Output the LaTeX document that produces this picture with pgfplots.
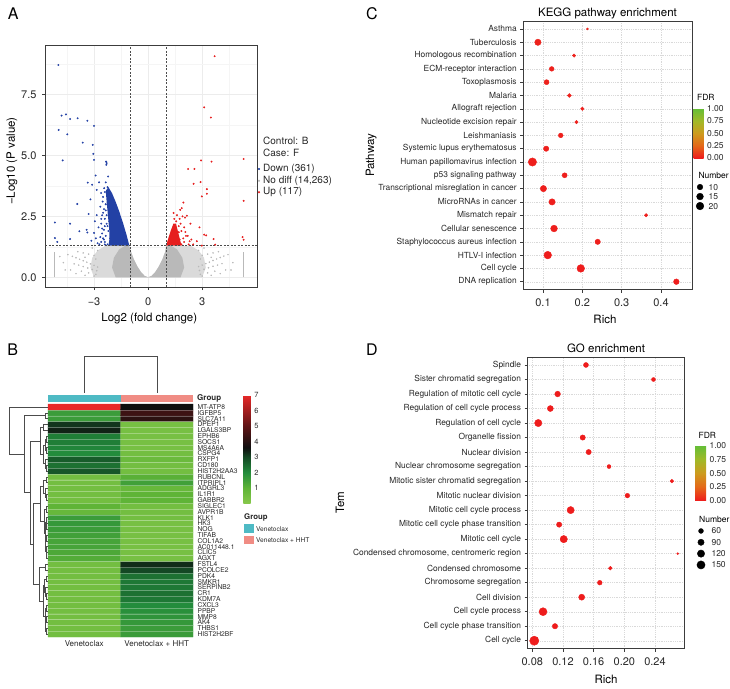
\documentclass[border=0pt]{standalone}
\usepackage{pgfplots}
\pgfplotsset{compat=1.18}
\usepackage{pgfplotstable}
\usepackage{fontspec}
\setmainfont{TeX Gyre Heros}

\definecolor{dnblue}{RGB}{35,65,165}
\definecolor{upred}{RGB}{230,30,30}
\definecolor{nogray}{RGB}{185,185,185}
\definecolor{nolight}{RGB}{218,218,218}
\definecolor{grpteal}{RGB}{78,186,196}
\definecolor{grpsalmon}{RGB}{240,140,132}
\definecolor{frame}{RGB}{60,60,60}
\definecolor{lab}{RGB}{40,40,40}

\newcommand{\fs}[1]{\fontsize{#1}{#1}\selectfont}

\pgfplotsset{
  /pgf/number format/assume math mode=true,
  dot panel/.style={
    anchor=south west, scale only axis,
    axis line style={frame, line width=0.6pt},
    grid=major, grid style={gray!30, line width=0.4pt, dash pattern=on 0.6pt off 1.2pt},
    tick align=outside, tick pos=left, major tick length=2.8pt,
    tick style={frame, line width=0.5pt},
    yticklabel style={font=\fs{8.4}, text=lab},
    xticklabel style={font=\fs{11}, text=lab, yshift=-3pt},
    label style={font=\fs{11.5}, text=black},
    title style={font=\fs{11.5}, at={(0.5,1)}, anchor=base, yshift=-1pt},
    colormap={fdr}{rgb255(0cm)=(238,28,28); rgb255(1cm)=(228,105,25); rgb255(2cm)=(205,155,30); rgb255(3cm)=(160,185,40); rgb255(4cm)=(100,190,55)},
    point meta min=0, point meta max=1,
  },
  size legend/.style={
    anchor=north west, scale only axis, width=8pt, xmin=-1, xmax=1,
    axis line style={draw=none}, xtick=\empty, major tick length=0pt,
    yticklabel pos=right, yticklabel style={font=\fs{8.5}, text=lab, xshift=1pt},
    title style={font=\fs{8.5}, anchor=base west},
  },
  fdr bar/.style={
    at={(parent axis.north east)}, anchor=north west, scale only axis,
    ytick={0,0.25,0.5,0.75,1}, yticklabels={0.00,0.25,0.50,0.75,1.00},
    axis line style={draw=none}, major tick length=0pt,
    yticklabel style={font=\fs{8.5}, text=lab},
    title=FDR, title style={font=\fs{8.5}, at={(0,1)}, anchor=base west},
  },
}

% KEGG: pos 1 = bottom row
\pgfplotstableread{
pos rich n fdr
1 0.439 10 0.002
2 0.196 20 0.001
3 0.112 20 0.004
4 0.239 9 0.006
5 0.128 15 0.005
6 0.362 4 0.008
7 0.123 13 0.006
8 0.101 13 0.007
9 0.155 8 0.009
10 0.073 24 0.010
11 0.108 9 0.011
12 0.145 7 0.012
13 0.185 4 0.013
14 0.200 4 0.014
15 0.167 5 0.015
16 0.109 8 0.016
17 0.122 7 0.017
18 0.179 4 0.018
19 0.087 13 0.019
20 0.213 3 0.020
}\kegg

% GO: pos 1 = bottom row
\pgfplotstableread{
pos rich n fdr
1 0.0826 190 0.0001
2 0.1096 70 0.0002
3 0.0940 143 0.0001
4 0.1444 85 0.0001
5 0.1680 57 0.0003
6 0.1817 44 0.0004
7 0.2696 35 0.0005
8 0.1210 120 0.0001
9 0.1150 68 0.0002
10 0.1300 117 0.0001
11 0.2040 56 0.0003
12 0.2620 44 0.0004
13 0.1800 47 0.0003
14 0.1535 67 0.0002
15 0.1457 68 0.0002
16 0.0878 119 0.0001
17 0.1035 83 0.0002
18 0.1130 76 0.0002
19 0.2380 47 0.0004
20 0.1500 62 0.0003
}\go

% heatmap: y = 41 - row, column 1 at x=84.25, column 2 at x=156.75
\pgfplotstableread{
x y v
84.25 1 0.5
156.75 1 1.6
84.25 2 0.5
156.75 2 1.6
84.25 3 0.5
156.75 3 1.7
84.25 4 0.5
156.75 4 1.8
84.25 5 0.5
156.75 5 1.9
84.25 6 0.5
156.75 6 2.0
84.25 7 0.5
156.75 7 2.3
84.25 8 0.5
156.75 8 2.4
84.25 9 0.5
156.75 9 2.3
84.25 10 0.5
156.75 10 2.3
84.25 11 0.5
156.75 11 2.4
84.25 12 0.5
156.75 12 3.0
84.25 13 0.5
156.75 13 3.3
84.25 14 1.2
156.75 14 0.4
84.25 15 1.3
156.75 15 0.4
84.25 16 1.4
156.75 16 0.4
84.25 17 1.4
156.75 17 0.4
84.25 18 1.5
156.75 18 0.4
84.25 19 1.6
156.75 19 0.4
84.25 20 1.7
156.75 20 0.4
84.25 21 1.6
156.75 21 0.5
84.25 22 0.8
156.75 22 0.5
84.25 23 1.0
156.75 23 0.5
84.25 24 0.5
156.75 24 1.0
84.25 25 0.5
156.75 25 1.0
84.25 26 0.5
156.75 26 0.8
84.25 27 0.5
156.75 27 1.5
84.25 28 0.5
156.75 28 1.1
84.25 29 2.8
156.75 29 0.5
84.25 30 2.4
156.75 30 0.5
84.25 31 2.7
156.75 31 0.7
84.25 32 2.0
156.75 32 0.5
84.25 33 2.1
156.75 33 0.4
84.25 34 2.2
156.75 34 0.4
84.25 35 2.2
156.75 35 0.4
84.25 36 3.4
156.75 36 0.4
84.25 37 3.2
156.75 37 0.4
84.25 38 1.6
156.75 38 4.1
84.25 39 1.6
156.75 39 4.4
84.25 40 7.0
156.75 40 3.6
}\heat

\begin{document}
\begin{tikzpicture}
\useasboundingbox (0,0) rectangle (730pt,-688pt);

% ---------------- A: volcano ----------------
\begin{axis}[at={(45pt,-287pt)}, anchor=south west, scale only axis,
  width=212pt, height=242pt,
  xmin=-5.72, xmax=6.04, ymin=-0.40, ymax=9.54,
  xtick={-3,0,3}, xticklabels={−3,0,3},
  ytick={0,2.5,5,7.5}, yticklabels={0.0,2.5,5.0,7.5},
  minor xtick={-4.5,-1.5,1.5,4.5}, minor ytick={1.25,3.75,6.25,8.75},
  grid=both, major grid style={gray!15, line width=0.5pt},
  minor grid style={gray!8, line width=0.35pt},
  axis line style={frame, line width=0.5pt},
  tick align=outside, tick pos=left, major tick length=3pt, minor tick length=0pt,
  tick style={frame, line width=0.5pt},
  ticklabel style={font=\fs{11}, text=lab},
  xticklabel style={yshift=-4pt}, yticklabel style={xshift=-2pt},
  label style={font=\fs{11.5}},
  xlabel={Log2 (fold change)}, ylabel={−Log10 (P value)},
  xlabel style={at={(axis description cs:0.492,-0.132)}, anchor=center},
  ylabel style={at={(axis description cs:-0.156,0.52)}, anchor=center},
]
% no-diff cloud: sparse outer part and dense part along the V
\addplot[fill=nolight, draw=none, forget plot] coordinates {
(-3.0,0) (-3.2,0.4) (-3.1,0.8) (-2.8,1.1) (-2.4,1.28) (-1.05,1.28)
(-0.95,1.05) (-0.8,0.75) (-0.6,0.45) (-0.4,0.22) (-0.2,0.06) (0,0)
(0.2,0.06) (0.4,0.22) (0.6,0.45) (0.8,0.75) (0.95,1.05) (1.0,1.28)
(2.4,1.28) (2.8,1.1) (3.1,0.8) (3.2,0.4) (3.0,0)};
\addplot[fill=nogray, draw=none, forget plot] coordinates {
(-1.8,0) (-2.0,0.4) (-1.9,0.8) (-1.6,1.15) (-1.3,1.28) (-1.05,1.28)
(-0.95,1.05) (-0.8,0.75) (-0.6,0.45) (-0.4,0.22) (-0.2,0.06) (0,0)
(0.2,0.06) (0.4,0.22) (0.6,0.45) (0.8,0.75) (0.95,1.05) (1.0,1.28)
(1.3,1.28) (1.6,1.15) (1.9,0.8) (2.0,0.4) (1.8,0)};
\addplot[only marks, mark=*, mark size=0.55pt, nogray, forget plot] coordinates {
(-4.45,0.93) (-4.2,0.86) (-4.0,0.80) (-3.8,0.74) (-3.6,0.68) (-3.4,0.62) (-3.2,0.55) (-3.0,0.49) (-2.8,0.42)
(-4.1,0.55) (-3.85,0.50) (-3.6,0.44) (-3.35,0.38) (-3.1,0.32) (-2.85,0.27)
(-3.9,1.05) (-3.6,1.0) (-3.3,0.95) (-3.0,0.9) (-2.8,1.1) (-3.1,1.2) (-2.9,0.75) (-3.5,0.82)
(-3.7,0.25) (-3.3,0.18) (-2.9,0.12) (-4.3,0.3) (-4.0,0.15) (-3.5,0.08) (-3.0,0.05)
(-4.7,0.6) (-4.6,0.3) (-4.9,0.85)
(4.43,0.93) (4.2,0.87) (4.0,0.81) (3.8,0.75) (3.6,0.69) (3.4,0.62) (3.2,0.56) (3.0,0.5) (2.8,0.44)
(4.1,0.56) (3.85,0.5) (3.6,0.45) (3.35,0.39) (3.1,0.33) (2.85,0.28)
(3.9,1.05) (3.6,1.0) (3.3,0.95) (3.0,0.9) (2.8,1.1) (3.1,1.2) (2.9,0.75) (3.5,0.82)
(3.7,0.25) (3.3,0.18) (2.9,0.12) (4.3,0.3) (4.0,0.15) (3.5,0.08) (3.0,0.05)
(4.7,0.6) (4.6,0.3)};
\addplot[nogray, line width=1pt, forget plot] coordinates {(-5.20,0) (-5.20,1.05)};
\addplot[nogray, line width=1pt, forget plot] coordinates {(5.30,0) (5.30,1.05)};
% down
\addplot[fill=dnblue, draw=none, forget plot] coordinates {
(-1.04,1.3) (-1.2,1.75) (-1.4,2.25) (-1.6,2.7) (-1.8,3.1) (-2.0,3.45) (-2.2,3.7)
(-2.35,3.55) (-2.3,3.1) (-2.25,2.7) (-2.2,2.3) (-2.15,1.9) (-2.15,1.55) (-2.2,1.3)};
\addplot[only marks, mark=*, mark size=0.75pt, dnblue, forget plot] coordinates {
(-4.98,8.72) (-4.80,6.64) (-4.56,6.69) (-4.96,6.05) (-4.33,6.50) (-3.91,6.53) (-3.37,6.43) (-3.00,6.22)
(-4.48,5.87) (-3.63,5.53) (-4.74,4.80) (-3.07,5.44) (-3.04,5.07) (-3.00,4.82) (-2.91,4.18) (-3.35,3.89)
(-3.11,3.80) (-2.85,3.59) (-3.93,3.01) (-5.17,2.25) (-4.33,2.20) (-3.81,1.89) (-3.41,1.95) (-3.37,1.84)
(-5.17,1.61) (-5.04,1.45) (-4.33,1.57) (-3.0,1.82) (-2.33,4.75) (-2.30,4.69) (-2.32,4.62) (-2.22,4.14)
(-2.44,3.66) (-2.61,3.46) (-2.52,3.11) (-2.72,3.9) (-2.65,2.9) (-2.85,2.55) (-2.95,2.3) (-2.75,2.05)
(-2.9,1.6) (-3.15,1.5) (-2.8,1.4) (-3.3,2.6) (-3.2,3.2) (-2.6,2.4) (-2.55,2.0) (-2.65,1.65) (-2.7,1.35)
(-2.35,3.9) (-2.25,3.7) (-2.4,3.5) (-2.1,2.9) (-2.3,2.2) (-2.45,1.55) (-1.95,2.5)
(-2.0,1.4) (-2.1,1.6) (-1.9,1.75) (-2.2,1.9) (-2.35,1.7) (-2.0,2.05) (-2.15,2.3) (-1.8,2.2)
(-2.3,2.55) (-2.45,2.8) (-2.0,2.6) (-2.35,3.0) (-1.75,1.45) (-2.25,1.35) (-2.4,2.1) (-1.9,2.85)
(-2.15,3.25) (-2.55,1.8) (-2.6,2.2) (-2.5,2.65) (-1.85,1.35) (-2.05,1.8) (-2.25,2.1) (-2.4,1.45)
(-2.4,1.35) (-2.5,1.6) (-2.45,1.95) (-2.4,2.4) (-2.35,2.75) (-2.5,3.3) (-2.55,2.55) (-2.6,1.45)};
% up
\addplot[fill=upred, draw=none, forget plot] coordinates {
(1.0,1.3) (1.12,1.6) (1.25,1.9) (1.4,2.2) (1.55,2.2) (1.65,1.9) (1.75,1.6) (1.85,1.3)};
\addplot[only marks, mark=*, mark size=0.75pt, upred, forget plot] coordinates {
(3.69,9.08) (3.11,6.98) (3.48,6.56) (5.30,4.86) (2.94,4.80) (3.52,4.75) (2.22,4.45) (2.57,4.45)
(2.52,3.84) (2.91,3.91) (3.26,3.62) (3.26,3.43) (2.98,3.32) (5.30,3.14) (1.96,3.07) (1.87,2.84)
(1.78,2.77) (1.41,2.64) (2.15,2.53) (1.91,2.50) (2.05,2.45) (1.56,2.30) (2.85,2.05) (2.07,1.86)
(3.11,1.75) (3.22,1.72) (5.24,1.65) (5.30,1.54) (3.63,1.57) (2.30,1.48) (2.70,1.48) (2.98,1.30)
(3.72,1.34) (1.7,2.1) (1.85,1.9) (2.2,1.7) (2.4,1.55) (1.95,1.6) (2.5,1.35) (1.75,2.4) (1.6,2.55) (2.35,2.2)
(1.65,1.4) (1.75,1.55) (1.6,1.7) (1.85,1.35) (2.0,1.45) (1.7,1.85) (2.1,1.7) (1.55,1.95)
(1.45,2.4) (2.25,1.35) (1.8,2.2) (2.0,2.05)};
% thresholds
\addplot[gray!60!black, line width=0.5pt, dash pattern=on 2pt off 1.5pt, forget plot] coordinates {(-1,-0.4) (-1,9.54)};
\addplot[gray!60!black, line width=0.5pt, dash pattern=on 2pt off 1.5pt, forget plot] coordinates {(1,-0.4) (1,9.54)};
\addplot[gray!60!black, line width=0.5pt, dash pattern=on 2pt off 1.5pt, forget plot] coordinates {(-5.72,1.3) (6.04,1.3)};
\end{axis}

% A legend
\begin{axis}[at={(255pt,-197pt)}, anchor=south west, scale only axis, width=6pt, height=61pt,
  xmin=255, xmax=261, ymin=-197, ymax=-136,
  axis line style={draw=none}, major tick length=0pt, xtick=\empty,
  ytick={-192.3,-180.7,-169,-152.7,-141},
  yticklabels={Up (117),{No diff (14,263)},Down (361),Case: F,Control: B},
  yticklabel pos=right, yticklabel style={font=\fs{10}, text=lab, inner sep=2pt}]
\addplot[only marks, mark=*, mark size=0.9pt, dnblue] coordinates {(259,-169)};
\addplot[only marks, mark=*, mark size=0.9pt, nogray] coordinates {(259,-180.7)};
\addplot[only marks, mark=*, mark size=0.9pt, upred] coordinates {(259,-192.3)};
\end{axis}

% ---------------- B: heatmap ----------------
\begin{axis}[at={(48pt,-404pt)}, anchor=north west, scale only axis,
  width=145pt, height=233pt, xmin=48, xmax=193, ymin=0.5, ymax=40.5, clip=false,
  axis line style={draw=none}, major tick length=0pt,
  xtick={84.25,156.75}, xticklabels={Venetoclax,Venetoclax + HHT},
  xticklabel style={font=\fs{8}, text=lab},
  ytick={1,...,40},
  yticklabels={HIST2H2BF,THBS1,AK4,MMP8,PPBP,CXCL3,KDM7A,CR1,SERPINB2,SMKR1,PDK4,PCOLCE2,FSTL4,AGXT,CLIC5,AC011448.1,COL1A2,TIFAB,NOG,HK3,KLK1,AVPR1B,SIGLEC1,GABBR2,IL1R1,ADGRL3,ITPRIPL1,RUBCNL,HIST2H2AA3,CD180,RXFP1,CSPG4,MS4A6A,SOCS1,EPHB6,LGALS3BP,DPEP1,SLC7A11,IGFBP5,MT-ATP8},
  yticklabel pos=right, yticklabel style={font=\fs{6.7}, text=lab, xshift=1pt},
  colormap={heat}{rgb255(0cm)=(135,200,75); rgb255(1cm)=(95,180,55); rgb255(2cm)=(35,140,60); rgb255(3cm)=(20,72,36); rgb255(3.6cm)=(15,15,15); rgb255(5cm)=(95,20,22); rgb255(7cm)=(232,40,40)},
  point meta min=0, point meta max=7,
  colorbar, colorbar style={at={(parent axis.north east)}, anchor=north west,
    xshift=41.8pt, yshift=9pt, scale only axis, width=7.4pt, height=108.5pt,
    ytick={1,...,7}, axis line style={draw=none}, major tick length=0pt,
    yticklabel style={font=\fs{7.5}, text=lab}},
]
\addplot[matrix plot*, mesh/cols=2, point meta=explicit] table[x=x, y=y, meta=v] {\heat};
% faint cell borders between rows
\addplot[white, opacity=0.3, line width=0.3pt, unbounded coords=jump] table {
x y
48 1.5
193 1.5
nan nan
48 2.5
193 2.5
nan nan
48 3.5
193 3.5
nan nan
48 4.5
193 4.5
nan nan
48 5.5
193 5.5
nan nan
48 6.5
193 6.5
nan nan
48 7.5
193 7.5
nan nan
48 8.5
193 8.5
nan nan
48 9.5
193 9.5
nan nan
48 10.5
193 10.5
nan nan
48 11.5
193 11.5
nan nan
48 12.5
193 12.5
nan nan
48 13.5
193 13.5
nan nan
48 14.5
193 14.5
nan nan
48 15.5
193 15.5
nan nan
48 16.5
193 16.5
nan nan
48 17.5
193 17.5
nan nan
48 18.5
193 18.5
nan nan
48 19.5
193 19.5
nan nan
48 20.5
193 20.5
nan nan
48 21.5
193 21.5
nan nan
48 22.5
193 22.5
nan nan
48 23.5
193 23.5
nan nan
48 24.5
193 24.5
nan nan
48 25.5
193 25.5
nan nan
48 26.5
193 26.5
nan nan
48 27.5
193 27.5
nan nan
48 28.5
193 28.5
nan nan
48 29.5
193 29.5
nan nan
48 30.5
193 30.5
nan nan
48 31.5
193 31.5
nan nan
48 32.5
193 32.5
nan nan
48 33.5
193 33.5
nan nan
48 34.5
193 34.5
nan nan
48 35.5
193 35.5
nan nan
48 36.5
193 36.5
nan nan
48 37.5
193 37.5
nan nan
48 38.5
193 38.5
nan nan
48 39.5
193 39.5
};
% annotation bar
\addplot[fill=grpteal, draw=none] coordinates {(48,40.843) (120.5,40.843) (120.5,42.045) (48,42.045)};
\addplot[fill=grpsalmon, draw=none] coordinates {(120.5,40.843) (193,40.843) (193,42.045) (120.5,42.045)};
% column dendrogram
\addplot[gray!60!black, line width=0.45pt] coordinates {(84.25,42.39) (84.25,48.74) (156.75,48.74) (156.75,42.39)};
% row dendrogram
\addplot[gray!60!black, line width=0.45pt, unbounded coords=jump] table {
x y
47.5 39
45 39
45 38
47.5 38
nan nan
47.5 37
43 37
43 36
47.5 36
nan nan
47.5 35
46.5 35
46.5 34
47.5 34
nan nan
47.5 33
46.5 33
46.5 32
47.5 32
nan nan
46.5 34.5
45 34.5
45 32.5
46.5 32.5
nan nan
47.5 30
46.5 30
46.5 29
47.5 29
nan nan
47.5 31
45.5 31
45.5 29.5
46.5 29.5
nan nan
45 33.5
43.5 33.5
43.5 30.25
45.5 30.25
nan nan
43 36.5
40.7 36.5
40.7 31.875
43.5 31.875
nan nan
47.5 28
46 28
46 27
47.5 27
nan nan
47.5 25
46.5 25
46.5 24
47.5 24
nan nan
47.5 26
45 26
45 24.5
46.5 24.5
nan nan
46 27.5
43 27.5
43 25.25
45 25.25
nan nan
47.5 23
46 23
46 22
47.5 22
nan nan
47.5 20
46.7 20
46.7 19
47.5 19
nan nan
47.5 21
46 21
46 19.5
46.7 19.5
nan nan
47.5 18
46.5 18
46.5 17
47.5 17
nan nan
47.5 15
46.7 15
46.7 14
47.5 14
nan nan
47.5 16
46 16
46 14.5
46.7 14.5
nan nan
46.5 17.5
45.5 17.5
45.5 15.25
46 15.25
nan nan
46 20.25
45 20.25
45 16.375
45.5 16.375
nan nan
46 22.5
44 22.5
44 18.3125
45 18.3125
nan nan
43 26.375
40 26.375
40 20.406
44 20.406
nan nan
47.5 13
45 13
45 12
47.5 12
nan nan
47.5 11
46 11
46 10
47.5 10
nan nan
47.5 8
46.5 8
46.5 7
47.5 7
nan nan
47.5 9
45.5 9
45.5 7.5
46.5 7.5
nan nan
46 10.5
44.5 10.5
44.5 8.25
45.5 8.25
nan nan
47.5 6
46.3 6
46.3 5
47.5 5
nan nan
47.5 4
46.5 4
46.5 3
47.5 3
nan nan
47.5 2
46.5 2
46.5 1
47.5 1
nan nan
46.5 3.5
45.7 3.5
45.7 1.5
46.5 1.5
nan nan
46.3 5.5
45 5.5
45 2.5
45.7 2.5
nan nan
44.5 9.375
43 9.375
43 4
45 4
nan nan
45 12.5
39.3 12.5
39.3 6.6875
43 6.6875
nan nan
40 23.391
33.3 23.391
33.3 9.594
39.3 9.594
nan nan
40.7 34.1875
30.7 34.1875
30.7 16.492
33.3 16.492
nan nan
45 38.5
24.7 38.5
24.7 25.34
30.7 25.34
nan nan
47.5 40
9.3 40
9.3 31.92
24.7 31.92
};
% group legend keys
\addplot[fill=grpteal, draw=none] coordinates {(244,18.3) (254,18.3) (254,19.85) (244,19.85)};
\addplot[fill=grpsalmon, draw=none] coordinates {(244,16.41) (254,16.41) (254,17.89) (244,17.89)};
\node[anchor=west, font=\fs{8}\bfseries, text=lab, inner sep=0pt] at (axis cs:197,41.41) {Group};
\node[anchor=west, font=\fs{7.8}\bfseries, text=lab, inner sep=0pt] at (axis cs:244,21.05) {Group};
\node[anchor=west, font=\fs{6.6}, text=lab, inner sep=0pt] at (axis cs:256,19.04) {Venetoclax};
\node[anchor=west, font=\fs{6.6}, text=lab, inner sep=0pt] at (axis cs:256,17.15) {Venetoclax + HHT};
\end{axis}

% ---------------- C: KEGG ----------------
\begin{axis}[dot panel, at={(523pt,-289.7pt)}, width=169pt, height=268.7pt,
  xmin=0.0491, xmax=0.4788, ymin=0.4, ymax=20.6,
  xtick={0.1,0.2,0.3,0.4}, xticklabels={0.1,0.2,0.3,0.4},
  ytick={1,...,20},
  yticklabels={DNA replication,Cell cycle,HTLV-I infection,Staphylococcus aureus infection,Cellular senescence,Mismatch repair,MicroRNAs in cancer,Transcriptional misreglation in cancer,p53 signaling pathway,Human papillomavirus infection,Systemic lupus erythematosus,Leishmaniasis,Nucleotide excision repair,Allograft rejection,Malaria,Toxoplasmosis,ECM-receptor interaction,Homologous recombination,Tuberculosis,Asthma},
  title={KEGG pathway enrichment}, xlabel={Rich}, ylabel={Pathway},
  xlabel style={at={(axis description cs:0.485,-0.109)}, anchor=center},
  ylabel style={at={(axis description cs:-0.899,0.5)}, anchor=center},
  colorbar, colorbar style={fdr bar, xshift=-7pt, yshift=-87.3pt, width=10pt, height=49.7pt, title style={yshift=2pt}},
]
\addplot[scatter, only marks, mark=*, point meta=\thisrow{fdr},
  scatter/use mapped color={draw=mapped color, fill=mapped color},
  visualization depends on={1+3.15*sqrt((\thisrow{n}-3)/21) \as \dotr},
  scatter/@pre marker code/.append style={/tikz/mark size=\dotr}]
  table[x=rich, y=pos] {\kegg};
\end{axis}

\begin{axis}[size legend, at={(696pt,-182.3pt)}, height=28.5pt, ymin=0.5, ymax=3.5,
  ytick={1,2,3}, yticklabels={20,15,10},
  title={Number}, title style={at={(0,1)}, xshift=-1pt, yshift=-1.7pt}]
\addplot[scatter, only marks, mark=*, scatter/use mapped color={draw=black, fill=black},
  visualization depends on={1+3.15*sqrt((\thisrow{n}-3)/21) \as \dotr},
  scatter/@pre marker code/.append style={/tikz/mark size=\dotr}]
  table {
x y n
0 3 10
0 2 15
0 1 20
};
\end{axis}

% ---------------- D: GO ----------------
\begin{axis}[dot panel, at={(527.3pt,-648.7pt)}, width=157.4pt, height=291.7pt,
  xmin=0.0735, xmax=0.2787, ymin=0.45, ymax=20.55,
  xtick={0.08,0.12,0.16,0.20,0.24}, xticklabels={0.08,0.12,0.16,0.20,0.24},
  ytick={1,...,20},
  yticklabels={Cell cycle,Cell cycle phase transition,Cell cycle process,Cell division,Chromosome segregation,Condensed chromosome,{Condensed chromosome, centromeric region},Mitotic cell cycle,Mitotic cell cycle phase transition,Mitotic cell cycle process,Mitotic nuclear division,Mitotic sister chromatid segregation,Nuclear chromosome segregation,Nuclear division,Organelle fission,Regulation of cell cycle,Regulation of cell cycle process,Regulation of mitotic cell cycle,Sister chromatid segregation,Spindle},
  title={GO enrichment}, xlabel={Rich}, ylabel={Tem},
  xlabel style={at={(axis description cs:0.5,-0.104)}, anchor=center},
  ylabel style={at={(axis description cs:-1.19,0.5)}, anchor=center},
  colorbar, colorbar style={fdr bar, xshift=1.8pt, yshift=-88.7pt, width=11pt, height=54.8pt, title style={yshift=1.7pt}},
]
\addplot[scatter, only marks, mark=*, point meta=\thisrow{fdr},
  scatter/use mapped color={draw=mapped color, fill=mapped color},
  visualization depends on={1+3.6*sqrt((\thisrow{n}-35)/155) \as \dotr},
  scatter/@pre marker code/.append style={/tikz/mark size=\dotr}]
  table[x=rich, y=pos] {\go};
\end{axis}

\begin{axis}[size legend, at={(697pt,-525.3pt)}, height=45.3pt, ymin=0.5, ymax=4.5,
  ytick={1,2,3,4}, yticklabels={150,120,90,60},
  yticklabel style={xshift=2pt},
  title={Number}, title style={at={(0,1)}, xshift=-1.3pt, yshift=-3pt}]
\addplot[scatter, only marks, mark=*, scatter/use mapped color={draw=black, fill=black},
  visualization depends on={1+3.6*sqrt((\thisrow{n}-35)/155) \as \dotr},
  scatter/@pre marker code/.append style={/tikz/mark size=\dotr}]
  table {
x y n
0 4 60
0 3 90
0 2 120
0 1 150
};
\end{axis}

% panel letters
\node[font=\fs{16}] at (13.3pt,-14pt) {A};
\node[font=\fs{16}] at (12.7pt,-350pt) {B};
\node[font=\fs{16}] at (372pt,-14pt) {C};
\node[font=\fs{16}] at (372pt,-350pt) {D};
\end{tikzpicture}
\end{document}
